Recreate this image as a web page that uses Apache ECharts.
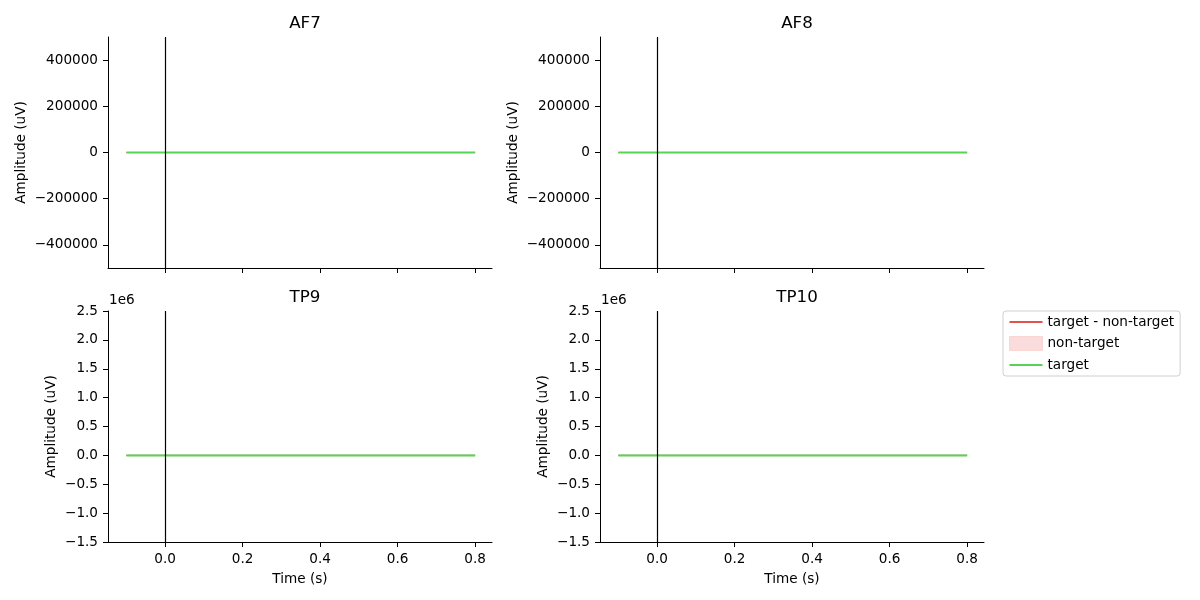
<!DOCTYPE html>
<html><head><meta charset="utf-8">
<script src="https://cdn.jsdelivr.net/npm/echarts@6/dist/echarts.min.js"></script>
<style>html,body{margin:0;padding:0;background:#fff}#c{width:1200px;height:600px}</style>
</head><body><div id="c"></div>
<script>
const channels = ['AF7', 'AF8', 'TP9', 'TP10'];
const times = [-0.1, 0.0, 0.1, 0.2, 0.3, 0.4, 0.5, 0.6, 0.7, 0.8];
const target = {
  AF7:  [0, 0, 0, 0, 0, 0, 0, 0, 0, 0],
  AF8:  [0, 0, 0, 0, 0, 0, 0, 0, 0, 0],
  TP9:  [0, 0, 0, 0, 0, 0, 0, 0, 0, 0],
  TP10: [0, 0, 0, 0, 0, 0, 0, 0, 0, 0]
};
const nonTarget = {
  AF7:  [0, 0, 0, 0, 0, 0, 0, 0, 0, 0],
  AF8:  [0, 0, 0, 0, 0, 0, 0, 0, 0, 0],
  TP9:  [0, 0, 0, 0, 0, 0, 0, 0, 0, 0],
  TP10: [0, 0, 0, 0, 0, 0, 0, 0, 0, 0]
};
const difference = {
  AF7:  [0, 0, 0, 0, 0, 0, 0, 0, 0, 0],
  AF8:  [0, 0, 0, 0, 0, 0, 0, 0, 0, 0],
  TP9:  [0, 0, 0, 0, 0, 0, 0, 0, 0, 0],
  TP10: [0, 0, 0, 0, 0, 0, 0, 0, 0, 0]
};
const xTicks = [0.0, 0.2, 0.4, 0.6, 0.8];
const yTicksTop = [-400000, -200000, 0, 200000, 400000];
const yRangeTop = [-500000, 500000];
const yRangeBottom = [-1500000, 2500000];
const xRange = [-0.1475, 0.8435];

const FONT = 'DejaVu Sans';
const FS = 13.6;
const GREEN = '#55d455';
const RED = '#e0524c';
const PINK = 'rgba(224,82,76,0.2)';

const gridPos = [
  {left: 108, top: 37, width: 384, height: 231},
  {left: 600, top: 37, width: 384, height: 231},
  {left: 108, top: 311, width: 384, height: 231},
  {left: 600, top: 311, width: 384, height: 231}
];
const nameGaps = [80, 80, 50, 50];

const minus = s => String(s).replace('-', '\u2212');

const grids = [], xAxes = [], yAxes = [], series = [], titles = [];
channels.forEach((ch, i) => {
  const bottom = i >= 2;
  grids.push(Object.assign({containLabel: false}, gridPos[i]));
  titles.push({
    text: ch, left: gridPos[i].left + gridPos[i].width / 2, top: gridPos[i].top - 27,
    textAlign: 'center',
    textStyle: {fontFamily: FONT, fontSize: 16.7, fontWeight: 'normal', color: '#000'}
  });
  xAxes.push({
    type: 'value', gridIndex: i, min: xRange[0], max: xRange[1],
    axisLine: {show: true, onZero: false, lineStyle: {color: '#000', width: 1}},
    axisTick: {show: true, length: 5, lineStyle: {color: '#000'}, customValues: xTicks},
    axisLabel: {show: bottom, customValues: xTicks, color: '#000', fontFamily: FONT, fontSize: FS, margin: 10,
      formatter: v => v.toFixed(1)},
    splitLine: {show: false},
    name: bottom ? 'Time (s)' : '', nameLocation: 'middle', nameGap: 30,
    nameTextStyle: {fontFamily: FONT, fontSize: FS, color: '#000'}
  });
  const yr = bottom ? yRangeBottom : yRangeTop;
  const y = {
    type: 'value', gridIndex: i, min: yr[0], max: yr[1],
    axisLine: {show: true, onZero: false, lineStyle: {color: '#000', width: 1}},
    axisTick: {show: true, length: 5, lineStyle: {color: '#000'}},
    axisLabel: {color: '#000', fontFamily: FONT, fontSize: FS, margin: 10,
      formatter: bottom ? (v => minus((v / 1e6).toFixed(1))) : (v => minus(v))},
    splitLine: {show: false},
    name: 'Amplitude (uV)', nameLocation: 'middle', nameGap: nameGaps[i],
    nameTextStyle: {fontFamily: FONT, fontSize: FS, color: '#000'}
  };
  if (bottom) {
    y.interval = 500000;
  } else {
    y.axisTick.customValues = yTicksTop;
    y.axisLabel.customValues = yTicksTop;
  }
  yAxes.push(y);

  series.push({
    name: 'non-target', type: 'line', xAxisIndex: i, yAxisIndex: i,
    data: times.map((t, k) => [t, nonTarget[ch][k]]),
    symbol: 'none', lineStyle: {width: 0, opacity: 0}, itemStyle: {color: PINK},
    areaStyle: {color: PINK, origin: 0}, z: 1, silent: true
  });
  series.push({
    name: 'target - non-target', type: 'line', xAxisIndex: i, yAxisIndex: i,
    data: times.map((t, k) => [t, difference[ch][k]]),
    symbol: 'none', lineStyle: {width: 1.2, color: RED}, itemStyle: {color: RED}, z: 2, silent: true
  });
  series.push({
    name: 'target', type: 'line', xAxisIndex: i, yAxisIndex: i,
    data: times.map((t, k) => [t, target[ch][k]]),
    symbol: 'none', lineStyle: {width: 2, color: GREEN}, itemStyle: {color: GREEN}, z: 3, silent: true,
    markLine: {
      silent: true, symbol: 'none', animation: false,
      label: {show: false},
      lineStyle: {color: '#000', width: 1.2, type: 'solid'},
      data: [{xAxis: 0}]
    }
  });
});

const lineIcon = 'path://M0,0 L30,0 L30,2 L0,2 Z';

const chart = echarts.init(document.getElementById('c'), null, {renderer: 'canvas'});
chart.setOption({
  animation: false,
  backgroundColor: '#fff',
  title: titles,
  grid: grids,
  xAxis: xAxes,
  yAxis: yAxes,
  series: series,
  legend: {
    orient: 'vertical', left: 1003, top: 311,
    padding: [4, 6, 4, 6], itemGap: 7, itemWidth: 33, itemHeight: 14,
    borderColor: '#d0d0d0', borderWidth: 1, borderRadius: 3, backgroundColor: '#fff',
    textStyle: {fontFamily: FONT, fontSize: FS, color: '#000'},
    selectedMode: false,
    data: [
      {name: 'target - non-target', icon: lineIcon, itemStyle: {color: RED}},
      {name: 'non-target', icon: 'rect', itemStyle: {color: PINK, borderColor: 'rgba(224,82,76,0.15)', borderWidth: 1}},
      {name: 'target', icon: lineIcon, itemStyle: {color: GREEN}}
    ]
  },
  graphic: [
    {type: 'text', left: 109, top: 293, style: {text: '1e6', font: '13.6px "DejaVu Sans"', fill: '#000'}},
    {type: 'text', left: 601, top: 293, style: {text: '1e6', font: '13.6px "DejaVu Sans"', fill: '#000'}}
  ]
});
</script></body></html>
